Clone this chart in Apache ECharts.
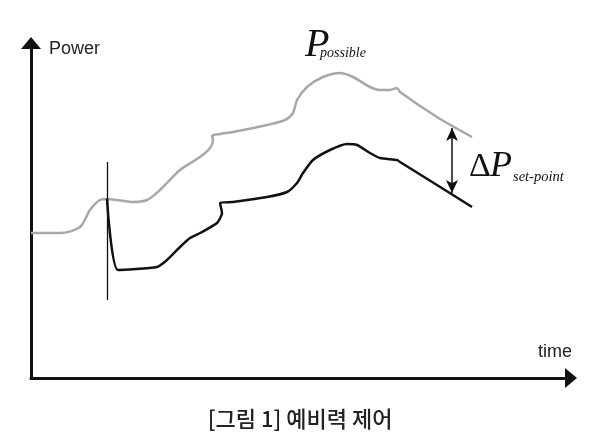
<!DOCTYPE html>
<html>
<head>
<meta charset="utf-8">
<script src="https://cdn.jsdelivr.net/npm/echarts@6/dist/echarts.min.js"></script>
<style>html,body{margin:0;padding:0;background:#fff}#c{width:600px;height:447px}</style>
</head>
<body>
<div id="c"></div>
<script>
// Values (time units on x, power units on y)
const possibleTime  = [0,29,49,59,69,76,86,102,116,129,149,169,179,182,181,189,202,236,254,262,266,276,292,309,322,339,349,359,366,369,406,441];
const possiblePower = [145,145,151,168,178,179,178,176,178,188,208,221,230,238,242,244,246,253,258,265,278,291,301,305,301,291,288,288,290,286,261,241];
const setpointTime  = [76,87,126,136,149,159,169,186,191,189,202,236,256,266,272,282,299,316,326,339,349,366,369,406,441];
const setpointPower = [179,108,111,118,131,140,145,155,165,175,176,181,186,195,205,218,228,234,233,225,220,218,216,193,171];
const eventTime = 76, eventLow = 78, eventHigh = 216;
const deltaTime = 421, deltaLow = 185, deltaHigh = 250;
const axisLabels = ['Power', 'time'];
const caption = '[그림 1] 예비력 제어';

const pair = (xs, ys) => xs.map((x, i) => [x, ys[i]]);

const chart = echarts.init(document.getElementById('c'), null, {renderer: 'canvas'});
const axisCommon = {
  type: 'value', min: 0,
  axisLine: {show: true, symbol: ['none', 'triangle'], symbolSize: [20, 12], lineStyle: {color: '#111', width: 3}},
  axisTick: {show: false}, axisLabel: {show: false}, splitLine: {show: false}
};
chart.setOption({
  animation: false,
  backgroundColor: '#fff',
  grid: {left: 31, right: 29, top: 43, bottom: 69},
  xAxis: Object.assign({}, axisCommon, {max: 540}),
  yAxis: Object.assign({}, axisCommon, {max: 335}),
  series: [
    {
      type: 'line', name: 'P possible', data: pair(possibleTime, possiblePower),
      smooth: 0.3, symbol: 'none',
      lineStyle: {color: '#a8a8a8', width: 2.5}
    },
    {
      type: 'line', name: 'P set-point', data: pair(setpointTime, setpointPower),
      smooth: 0.2, symbol: 'none',
      lineStyle: {color: '#111', width: 2.5},
      markLine: {
        silent: true, animation: false,
        label: {show: false},
        data: [
          [{coord: [eventTime, eventLow], symbol: 'none', lineStyle: {color: '#111', width: 1.3, type: 'solid'}},
           {coord: [eventTime, eventHigh], symbol: 'none'}],
          [{coord: [deltaTime, deltaLow], symbol: 'arrow', symbolSize: [9, 13], lineStyle: {color: '#111', width: 1.5, type: 'solid'}},
           {coord: [deltaTime, deltaHigh], symbol: 'arrow', symbolSize: [9, 13]}]
        ]
      }
    }
  ],
  graphic: [
    {type: 'text', left: 49, top: 40, style: {text: axisLabels[0], font: '18px "Liberation Sans", Arial, sans-serif', fill: '#222'}},
    {type: 'text', left: 538, top: 343, style: {text: axisLabels[1], font: '18px "Liberation Sans", Arial, sans-serif', fill: '#222'}},
    {type: 'text', left: 305, top: 25, style: {text: 'P', font: 'italic 40px "Liberation Serif", serif', fill: '#111'}},
    {type: 'text', left: 320, top: 46, style: {text: 'possible', font: 'italic 14px "Liberation Serif", serif', fill: '#111'}},
    {type: 'text', left: 469, top: 150, style: {text: 'Δ', font: '34px "Liberation Serif", serif', fill: '#111'}},
    {type: 'text', left: 490, top: 149, style: {text: 'P', font: 'italic 36px "Liberation Serif", serif', fill: '#111'}},
    {type: 'text', left: 513, top: 170, style: {text: 'set-point', font: 'italic 14.5px "Liberation Serif", serif', fill: '#111'}},
    {type: 'text', left: 'center', top: 408, style: {text: caption, font: '500 22px "Noto Sans CJK KR", sans-serif', fill: '#222'}}
  ]
});
</script>
</body>
</html>
